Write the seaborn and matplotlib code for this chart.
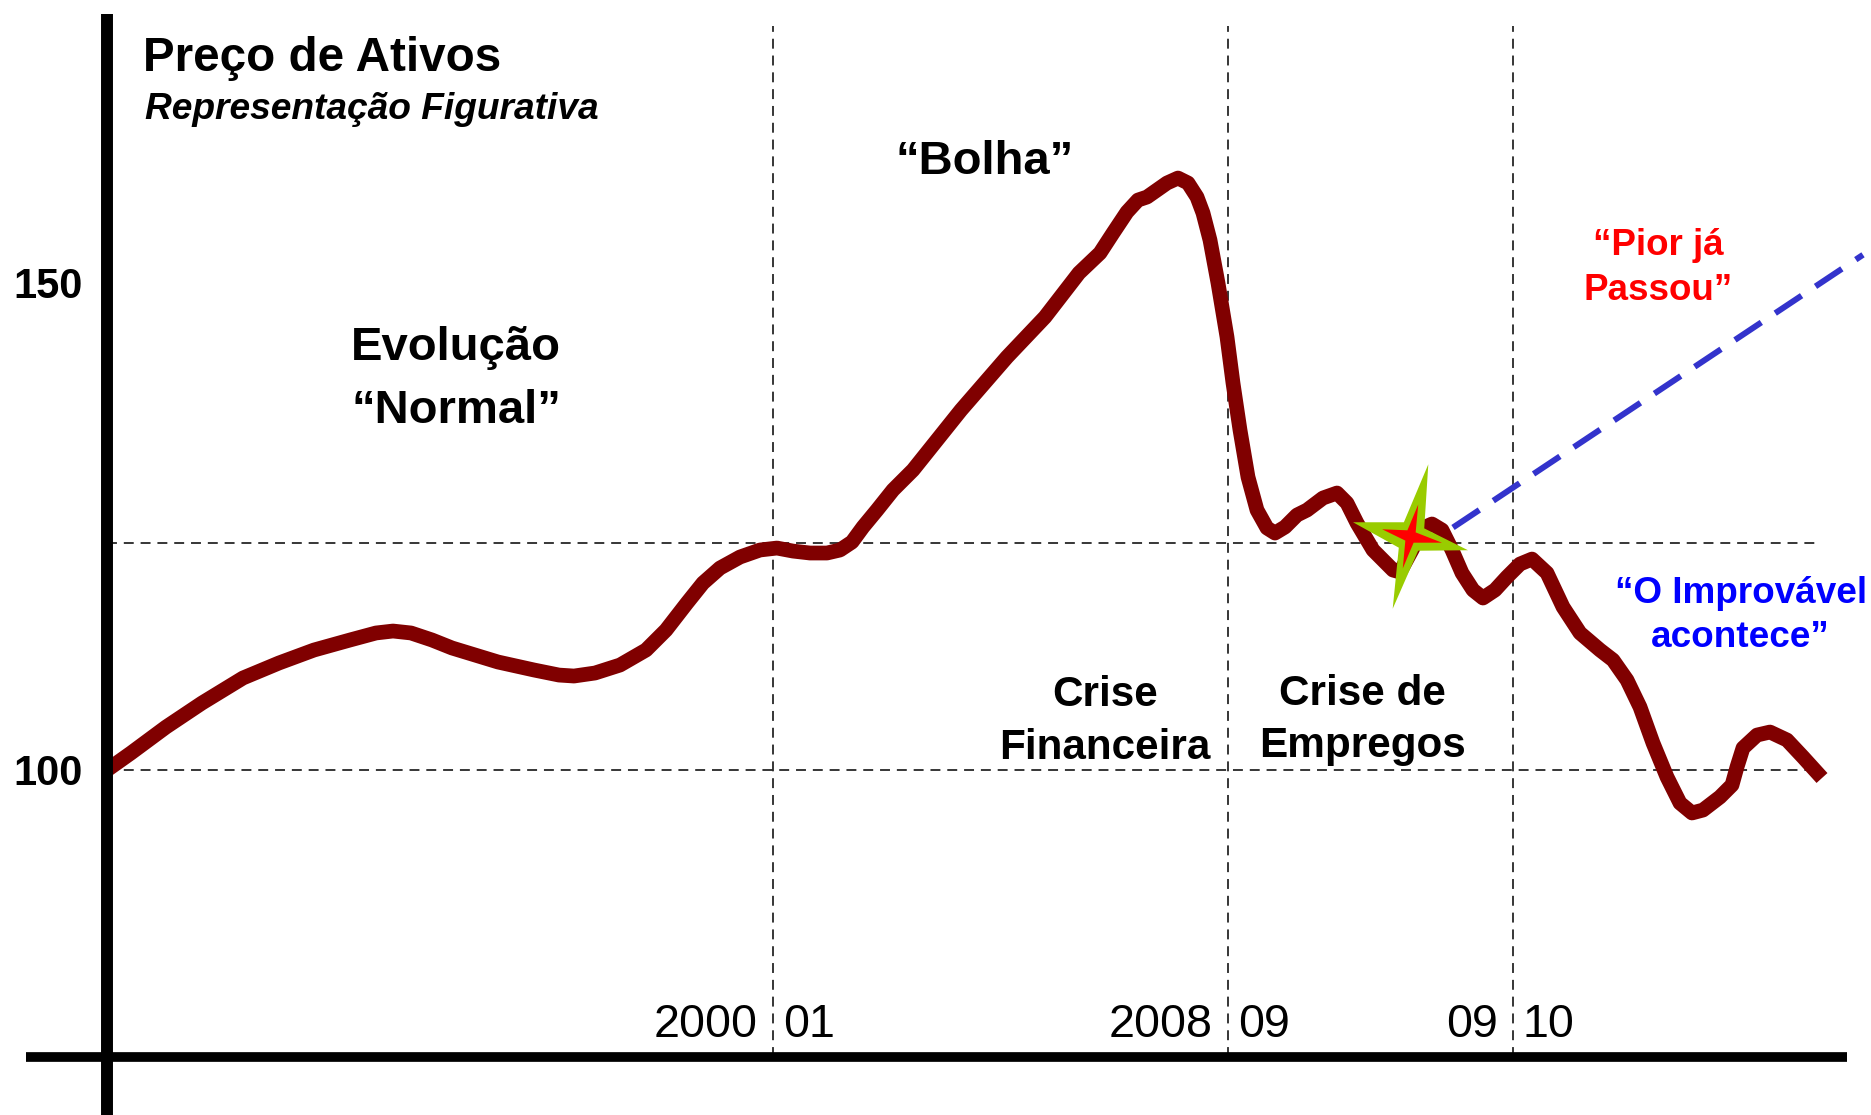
import numpy as np
import pandas as pd
import matplotlib
matplotlib.use("Agg")
import matplotlib.pyplot as plt
from matplotlib.path import Path
import seaborn as sns

# ---------------- data ----------------
time_idx = [0.0, 2.4, 5.9, 9.5, 13.6, 17.2, 20.7, 24.3, 26.9, 28.6, 30.4, 32.5, 34.5,
            39.1, 42.7, 45.2, 46.7, 48.8, 51.3, 53.9, 55.9, 58.0, 59.6, 61.3, 63.3,
            65.3, 67.0, 68.6, 70.3, 72.0, 73.3, 74.5, 75.6, 77.0, 78.6, 80.6, 85.4,
            90.0, 93.8, 97.2, 99.3, 100.6, 102.0, 103.1, 104.0, 105.0, 106.0, 107.1,
            108.1, 109.0, 109.6, 110.3, 111.1, 112.0, 112.6, 113.3, 114.1, 115.0,
            116.0, 116.8, 117.8, 119.0, 120.0, 121.6, 123.0, 124.0, 125.0, 126.6,
            128.6, 129.3, 130.5, 131.6, 132.5, 133.5, 134.5, 135.5, 136.6, 137.6,
            138.8, 140.0, 141.3, 142.5, 144.0, 145.6, 147.3, 149.3, 150.6, 152.0,
            153.3, 154.6, 156.0, 157.3, 158.5, 159.6, 161.3, 162.5, 163.0, 163.6,
            165.0, 166.3, 168.0, 169.6, 171.5]
price = [100.0, 101.75, 104.41, 106.88, 109.45, 110.99, 112.32, 113.35, 114.07, 114.27,
         114.07, 113.35, 112.53, 111.09, 110.27, 109.75, 109.65, 109.96, 110.78, 112.32,
         114.37, 117.15, 119.20, 120.74, 121.87, 122.59, 122.79, 122.48, 122.28, 122.28,
         122.59, 123.41, 124.95, 126.69, 128.75, 130.80, 136.96, 142.40, 146.51, 151.03,
         153.08, 155.13, 157.29, 158.52, 158.83, 159.55, 160.27, 160.78, 160.27, 158.83,
         157.19, 154.41, 150.00, 144.46, 139.73, 134.91, 130.08, 126.69, 124.85, 124.33,
         124.95, 126.18, 126.69, 127.93, 128.44, 127.41, 125.36, 122.59, 120.53, 120.33,
         122.59, 124.85, 125.26, 124.64, 122.59, 120.23, 118.48, 117.66, 118.48, 119.82,
         121.15, 121.66, 120.23, 116.74, 114.07, 112.32, 111.29, 109.24, 106.47, 102.77,
         99.28, 96.61, 95.59, 95.89, 97.23, 98.46, 100.31, 102.26, 103.59, 103.90,
         103.08, 101.33, 99.18]

ref_levels = [100.0, 123.3]
y_tick_values = [150, 100]
y_tick_labels = ["150", "100"]

period_x = [66.6, 112.1, 140.6]
period_left_labels = ["2000", "2008", "09"]
period_right_labels = ["01", "09", "10"]

star_x = [130.25]
star_y = [124.0]

proj_x = [134.6, 175.6]
proj_y = [124.9, 152.9]

# ---------------- style ----------------
sns.set_theme(style="white")
plt.rcParams["font.family"] = ["Liberation Sans", "DejaVu Sans"]
plt.rcParams["text.color"] = "black"

W, H = 1871, 1115
fig = plt.figure(figsize=(W / 100, H / 100), dpi=100)
ax = fig.add_axes([0, 0, 1, 1])


def fx(px):
    return px / W


def fy(py):
    return 1 - py / H


# reference dashed lines
for lvl in ref_levels:
    ax.plot([0, 171.2], [lvl, lvl], color="black", lw=1.1, dashes=(6.5, 4.5), zorder=1)
for xv in period_x:
    ax.plot([xv, xv], [70.5, 176.4], color="black", lw=1.1, dashes=(6.5, 4.5), zorder=1)

# projection ("Pior já Passou")
sns.lineplot(x=proj_x, y=proj_y, ax=ax, color="#3333CC", linewidth=4.3, zorder=2)
ax.lines[-1].set_dashes((5.3, 2.8))

# main series
df = pd.DataFrame({"t": time_idx, "p": price})
sns.lineplot(data=df, x="t", y="p", ax=ax, sort=False, estimator=None,
             color="#800000", linewidth=10.6, zorder=3,
             solid_joinstyle="round", solid_capstyle="butt")

ax.set_xlim(-10.7, 176.4)
ax.set_ylim(64.58, 179.06)
ax.axis("off")

# axes lines
ax.plot([0, 0], [177.6, 60], color="black", lw=8.6, solid_capstyle="butt", zorder=5)
ax.plot([-8.1, 174.0], [70.5, 70.5], color="black", lw=7.0, solid_capstyle="butt", zorder=5)

# star marker
outer = [(17.5, 71), (13.5, 8), (56.5, -13.5), (7.5, -14), (-17.5, -71), (-11.5, -11),
         (-56.5, 14), (-6.5, 14), (17.5, 71)]
inner = [(7.5, 31), (5, 4), (30.5, -6), (3, -6), (-7.5, -31), (-5, -4), (-27.5, 7),
         (-3, 6), (7.5, 31)]
outer_path = Path(outer, [Path.MOVETO] + [Path.LINETO] * 7 + [Path.CLOSEPOLY])
inner_path = Path(inner, [Path.MOVETO] + [Path.LINETO] * 7 + [Path.CLOSEPOLY])
ax.plot(star_x, star_y, marker=outer_path, markersize=104, color="#99CC00",
        markeredgewidth=0, linestyle="none", zorder=6)
ax.plot(star_x, star_y, marker=inner_path, markersize=46, color="#FF0000",
        markeredgewidth=0, linestyle="none", zorder=7)

# y tick labels
for v, lab in zip(y_tick_values, y_tick_labels):
    ax.text(-2.4, v - 1.5, lab, ha="right", va="baseline", fontsize=30,
            fontweight="bold", color="black")

# period labels
for xv, l, r in zip(period_x, period_left_labels, period_right_labels):
    ax.text(xv - 1.5, 72.6, l, ha="right", va="baseline", fontsize=33.6, color="black")
    ax.text(xv + 1.0, 72.6, r, ha="left", va="baseline", fontsize=33.6, color="black")

# texts
fig.text(fx(143), fy(71), "Preço de Ativos", ha="left", va="baseline",
         fontsize=34.3, fontweight="bold")
fig.text(fx(145), fy(119), "Representação Figurativa", ha="left", va="baseline",
         fontsize=26.7, fontweight="bold", fontstyle="italic")
fig.text(fx(456), fy(360), "Evolução", ha="center", va="baseline", fontsize=34, fontweight="bold")
fig.text(fx(456), fy(423), "\u201cNormal\u201d", ha="center", va="baseline", fontsize=34, fontweight="bold")
fig.text(fx(985), fy(174), "\u201cBolha\u201d", ha="center", va="baseline", fontsize=34, fontweight="bold")
fig.text(fx(1105), fy(706), "Crise", ha="center", va="baseline", fontsize=30.4, fontweight="bold")
fig.text(fx(1105), fy(759), "Financeira", ha="center", va="baseline", fontsize=30.4, fontweight="bold")
fig.text(fx(1362), fy(705), "Crise de", ha="center", va="baseline", fontsize=30.4, fontweight="bold")
fig.text(fx(1362), fy(757), "Empregos", ha="center", va="baseline", fontsize=30.4, fontweight="bold")
fig.text(fx(1658), fy(255), "\u201cPior já", ha="center", va="baseline", fontsize=26.5,
         fontweight="bold", color="#FF0000")
fig.text(fx(1658), fy(300), "Passou\u201d", ha="center", va="baseline", fontsize=26.5,
         fontweight="bold", color="#FF0000")
fig.text(fx(1741), fy(603), "\u201cO Improvável", ha="center", va="baseline", fontsize=26.6,
         fontweight="bold", color="#0000FF")
fig.text(fx(1740), fy(647), "acontece\u201d", ha="center", va="baseline", fontsize=26.6,
         fontweight="bold", color="#0000FF")

fig.savefig("out.png", dpi=100, facecolor="white")
